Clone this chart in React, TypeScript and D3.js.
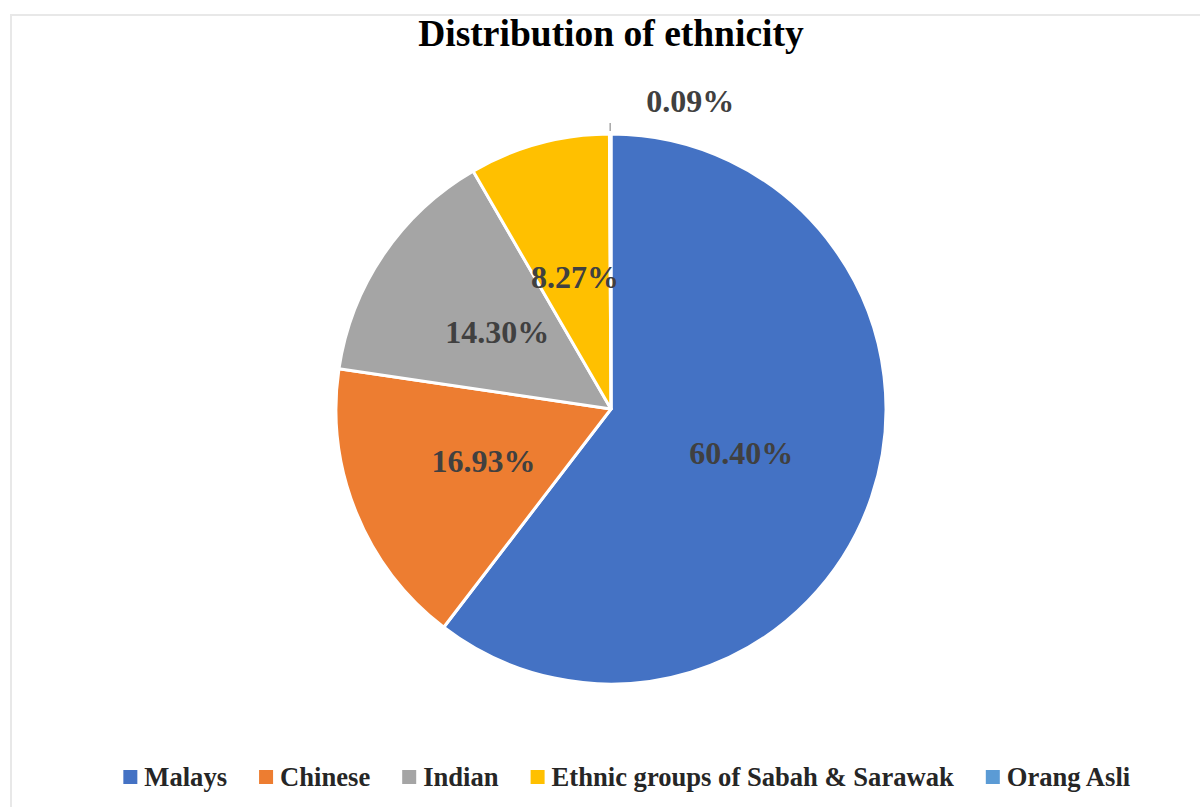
import React from "react";
import * as d3 from "d3";

const categories = ["Malays", "Chinese", "Indian", "Ethnic groups of Sabah & Sarawak", "Orang Asli"];
const values = [60.40, 16.93, 14.30, 8.27, 0.09];
const colors = ["#4472C4", "#ED7D31", "#A5A5A5", "#FFC000", "#5B9BD5"];
const title = "Distribution of ethnicity";

const W = 1200;
const H = 807;
const FONT = "Liberation Serif, Tinos, Times New Roman, DejaVu Serif, serif";

function measure(text: string, font: string): number {
  const c = document.createElement("canvas");
  const ctx = c.getContext("2d");
  if (!ctx) return text.length * 12;
  ctx.font = font;
  return ctx.measureText(text).width;
}

export default function App() {
  const cx = 611;
  const cy = 409;
  const r = 275;
  const pie = d3.pie<number>().sort(null).value((d) => d);
  const arcs = pie(values);
  const arcGen = d3.arc<d3.PieArcDatum<number>>().innerRadius(0).outerRadius(r);
  const labelArc = d3.arc<d3.PieArcDatum<number>>().innerRadius(r * 0.5).outerRadius(r * 0.5);

  const legendSize = 26.6;
  const legendFont = `bold ${legendSize}px ${FONT}`;
  const marker = 14;
  const markerGap = 7;
  const itemGap = 32;
  const widths = categories.map((c) => marker + markerGap + measure(c, legendFont));
  const total = widths.reduce((a, b) => a + b, 0) + itemGap * (categories.length - 1);
  const legendLeft = 123;
  const legendRight = 1132;
  let lx = (legendLeft + legendRight) / 2 - total / 2;
  const legendY = 777;
  const legendItems = categories.map((c, i) => {
    const x = lx;
    lx += widths[i] + itemGap;
    return { c, x, color: colors[i] };
  });

  return (
    <svg
      width={W}
      height={H}
      style={{ position: "absolute", left: 0, top: 0, display: "block", background: "#fff" }}
    >
      <rect x={11} y={15} width={W + 20} height={H + 20} fill="#fff" stroke="#e8e8e8" strokeWidth={2} />
      <text
        x={611}
        y={46}
        textAnchor="middle"
        style={{ fontFamily: FONT }}
        fontWeight="bold"
        fontSize={37.5}
        fill="#000"
      >
        {title}
      </text>
      <g transform={`translate(${cx},${cy})`}>
        {arcs.map((a, i) => (
          <path key={i} d={arcGen(a) || ""} fill={colors[i]} stroke="#fff" strokeWidth={3} strokeLinejoin="round" />
        ))}
        {arcs.map((a, i) => {
          if (values[i] < 1) {
            const mid = (a.startAngle + a.endAngle) / 2;
            const x1 = Math.sin(mid) * (r + 3);
            const y1 = -Math.cos(mid) * (r + 3);
            const x2 = Math.sin(mid) * (r + 11);
            const y2 = -Math.cos(mid) * (r + 11);
            return (
              <g key={"l" + i}>
                <line x1={x1} y1={y1} x2={x2} y2={y2} stroke="#a6a6a6" strokeWidth={1.5} />
                <text
                  x={x2 + 36}
                  y={y2 - 22}
                  dy="0.35em"
                  textAnchor="start"
                  style={{ fontFamily: FONT }}
                  fontWeight="bold"
                  fontSize={32}
                  fill="#404040"
                >
                  {values[i].toFixed(2)}%
                </text>
              </g>
            );
          }
          const [x, y] = labelArc.centroid(a);
          return (
            <text
              key={"l" + i}
              x={x}
              y={y}
              dy="0.35em"
              textAnchor="middle"
              style={{ fontFamily: FONT }}
              fontWeight="bold"
              fontSize={32}
              fill="#404040"
            >
              {values[i].toFixed(2)}%
            </text>
          );
        })}
      </g>
      <g>
        {legendItems.map((it, i) => (
          <g key={i}>
            <rect x={it.x} y={legendY - marker / 2} width={marker} height={marker} fill={it.color} />
            <text
              x={it.x + marker + markerGap}
              y={legendY}
              dy="0.35em"
              style={{ fontFamily: FONT }}
              fontWeight="bold"
              fontSize={legendSize}
              fill="#262626"
            >
              {it.c}
            </text>
          </g>
        ))}
      </g>
    </svg>
  );
}
